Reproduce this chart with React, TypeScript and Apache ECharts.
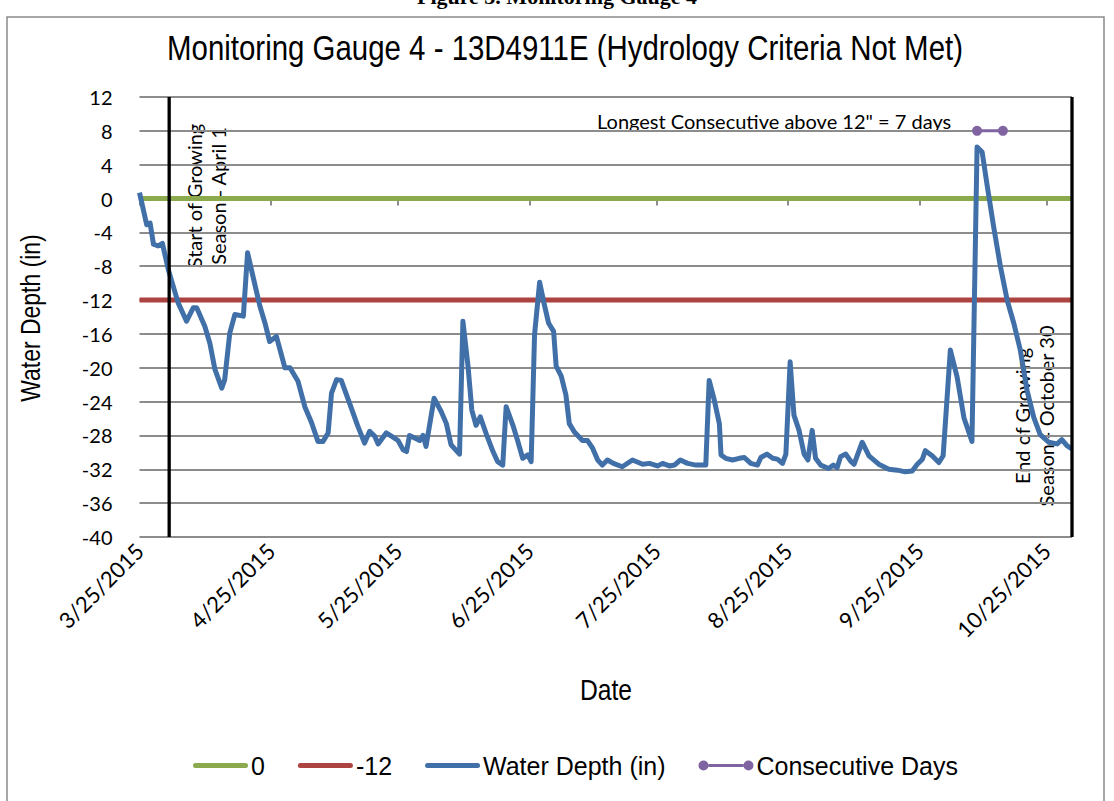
import React, { useEffect, useRef } from "react";
import * as echarts from "echarts";

// x values are days counted from 3/25/2015
const tickDays = [0, 31, 61, 92, 122, 153, 184, 214];
const tickLabels = [
  "3/25/2015",
  "4/25/2015",
  "5/25/2015",
  "6/25/2015",
  "7/25/2015",
  "8/25/2015",
  "9/25/2015",
  "10/25/2015",
];
const axisMaxDay = 220;
const growingStartDay = 7;
const growingEndDay = 220;

const waterDepth: [number, number][] = [
  [0, 0.7], [1.7, -3.1], [2.5, -2.9], [3.3, -5.4], [4.4, -5.6], [5.4, -5.3],
  [6.8, -8.4], [9.1, -12.3], [11.1, -14.5], [12.7, -12.9], [13.5, -12.9],
  [15.4, -15.1], [16.6, -17.1], [17.8, -20.2], [19.4, -22.4], [20.1, -21.4],
  [21.3, -15.9], [22.5, -13.7], [24.5, -13.9], [25.5, -6.4], [26.4, -8.4],
  [28.4, -12.7], [29.6, -14.7], [30.7, -16.9], [32.3, -16.3], [34.3, -20.0],
  [35.5, -20.0], [37.4, -21.6], [39, -24.6], [40.6, -26.5], [42.1, -28.7],
  [43.3, -28.7], [44.5, -27.7], [45.3, -23.0], [46.5, -21.4], [47.6, -21.5],
  [50, -24.8], [51.5, -26.9], [53.1, -28.9], [54.3, -27.5], [55.5, -28.1],
  [56.3, -29], [58.2, -27.7], [59.8, -28.2], [61, -28.6], [62.2, -29.7],
  [63, -29.9], [63.7, -28], [65.3, -28.4], [66.1, -28.6], [66.9, -28],
  [67.6, -29.3], [69.5, -23.6], [71.2, -25.2], [72.4, -26.6], [73.5, -29.1],
  [75.5, -30.2], [76.3, -14.5], [77.5, -19.8], [78.4, -25], [79.4, -26.8],
  [80.4, -25.8], [81.8, -27.8], [83.4, -29.9], [84.5, -31.1], [85.7, -31.5],
  [86.5, -24.6], [88.1, -26.8], [89.2, -28.6], [90.4, -30.7], [91.6, -30.3],
  [92.4, -31.1], [93.2, -16.1], [94.4, -9.9], [95.4, -12.3], [96.5, -14.7],
  [97.7, -15.7], [98.3, -19.8], [99.5, -21.0], [100.6, -23.2], [101.4, -26.6],
  [102.6, -27.6], [104.5, -28.6], [105.7, -28.6], [106.9, -29.5], [108.1, -30.9],
  [109.2, -31.5], [110.4, -30.9], [111.8, -31.3], [113.9, -31.7], [116.3, -30.9],
  [118.7, -31.4], [120.3, -31.3], [122.2, -31.6], [123.4, -31.3], [125, -31.6],
  [126.2, -31.5], [127.6, -30.9], [129.3, -31.3], [131.3, -31.5], [133.6, -31.5],
  [134.4, -21.5], [135.6, -23.8], [136.8, -26.6], [137.2, -30.3], [138.3, -30.7],
  [139.9, -30.9], [141.5, -30.7], [142.7, -30.6], [144.2, -31.3], [145.8, -31.5],
  [146.6, -30.6], [148, -30.2], [149.4, -30.7], [150.5, -30.8], [151.7, -31.3],
  [152.5, -30.2], [153.5, -19.3], [154.4, -25.6], [155.6, -27.4], [156.8, -30.2],
  [157.7, -30.9], [158.7, -27.4], [159.5, -30.7], [160.7, -31.5], [162.6, -31.9],
  [163.7, -31.5], [164.6, -31.8], [165.4, -30.5], [166.6, -30.2], [167.9, -31.1],
  [168.6, -31.4], [170.5, -28.8], [172.1, -30.4], [174.4, -31.4], [176.8, -32.0],
  [178.8, -32.1], [180.7, -32.3], [182.3, -32.2], [183.5, -31.4], [184.7, -30.8],
  [185.4, -29.8], [187, -30.4], [188.6, -31.2], [189.6, -30.4], [191.3, -17.9],
  [192.9, -21.1], [194.5, -25.9], [196.4, -28.7], [197.6, 6.1], [198.8, 5.5],
  [200, 1.5], [201.5, -3.3], [203.1, -8.0], [204.7, -12.0], [206.3, -14.8],
  [207.8, -17.9], [209.4, -22.7], [211, -25.9], [212.5, -27.9], [214.5, -28.8],
  [216.5, -29.0], [217.6, -28.5], [218.8, -29.2], [220, -29.6],
];

const zeroLine: [number, number][] = [[0, 0], [axisMaxDay, 0]];
const criteriaLine: [number, number][] = [[0, -12], [axisMaxDay, -12]];
const consecutiveDays: [number, number][] = [[197.6, 8], [203.7, 8]];

const SANS = "'Liberation Sans', Arial, sans-serif";
const CAL = "Lato, 'Open Sans', sans-serif";

const capsule =
  "path://M2.5,0 H52.5 A2.5,2.5 0 0 1 52.5,5 H2.5 A2.5,2.5 0 0 1 2.5,0 Z";
const dotLine =
  "path://M10,3.5 H45 V6.5 H10 Z M0,5 A5,5 0 1 0 10,5 A5,5 0 1 0 0,5 Z M45,5 A5,5 0 1 0 55,5 A5,5 0 1 0 45,5 Z";

function label(x: number, y: number, text: string, font: string, extra: any = {}) {
  return {
    type: "text",
    x,
    y,
    ...extra,
    style: {
      text,
      font,
      fill: "#000",
      align: "center",
      textAlign: "center",
      verticalAlign: "middle",
      textVerticalAlign: "middle",
      ...(extra.style || {}),
    },
  };
}

export default function App() {
  const ref = useRef<HTMLDivElement>(null);

  useEffect(() => {
    if (!ref.current) return;
    const chart = echarts.init(ref.current, undefined, { renderer: "svg" });
    const tickMap: Record<number, string> = {};
    tickDays.forEach((d, i) => (tickMap[d] = tickLabels[i]));

    chart.setOption({
      animation: false,
      backgroundColor: "#fff",
      grid: { left: 139.5, right: 42, top: 97, bottom: 264, containLabel: false },
      xAxis: [
        {
          type: "value",
          min: 0,
          max: axisMaxDay,
          position: "bottom",
          axisLine: { show: false, onZero: false },
          axisTick: { show: false },
          splitLine: { show: false },
          axisLabel: {
            customValues: tickDays,
            rotate: 45,
            margin: 10,
            fontFamily: CAL,
            fontSize: 22,
            color: "#000",
            formatter: (v: number) => tickMap[v] ?? "",
          },
        },
        {
          type: "value",
          min: 0,
          max: axisMaxDay,
          position: "top",
          axisLine: { show: true, onZero: true, lineStyle: { color: "#8c8c8c", width: 2 } },
          axisTick: {
            show: true,
            inside: true,
            length: 7,
            customValues: tickDays,
            lineStyle: { color: "#8c8c8c", width: 2 },
          },
          axisLabel: { show: false },
          splitLine: { show: false },
        },
      ],
      yAxis: {
        type: "value",
        min: -40,
        max: 12,
        interval: 4,
        axisLine: { show: false },
        axisTick: { show: false },
        axisLabel: { margin: 27, fontFamily: CAL, fontSize: 20, color: "#000" },
        splitLine: { show: true, lineStyle: { color: "#8c8c8c", width: 2 } },
      },
      legend: {
        left: 193,
        top: 753,
        padding: 0,
        itemGap: 33,
        itemWidth: 55,
        itemHeight: 10,
        textStyle: { fontFamily: SANS, fontSize: 25, color: "#000", padding: [0, 0, 0, -2] },
        data: [
          { name: "0", icon: capsule },
          { name: "-12", icon: capsule },
          { name: "Water Depth (in)", icon: capsule },
          { name: "Consecutive Days", icon: dotLine },
        ],
      },
      series: [
        {
          name: "0",
          type: "line",
          data: zeroLine,
          showSymbol: false,
          symbol: "none",
          lineStyle: { color: "#8ba94d", width: 5 },
          itemStyle: { color: "#8ba94d" },
          z: 3,
        },
        {
          name: "-12",
          type: "line",
          data: criteriaLine,
          showSymbol: false,
          symbol: "none",
          lineStyle: { color: "#ad4340", width: 5 },
          itemStyle: { color: "#ad4340" },
          z: 3,
        },
        {
          name: "Water Depth (in)",
          type: "line",
          data: waterDepth,
          showSymbol: false,
          symbol: "none",
          lineStyle: { color: "#4170a8", width: 5, join: "round" },
          itemStyle: { color: "#4170a8" },
          z: 4,
        },
        {
          name: "Consecutive Days",
          type: "line",
          data: consecutiveDays,
          symbol: "circle",
          symbolSize: 10,
          showSymbol: true,
          lineStyle: { color: "#8064a2", width: 3 },
          itemStyle: { color: "#8064a2" },
          z: 5,
        },
        {
          name: "Start of Growing Season",
          type: "line",
          data: [[growingStartDay, 12], [growingStartDay, -40]],
          symbol: "none",
          clip: false,
          lineStyle: { color: "#000", width: 3.3 },
          z: 6,
        },
        {
          name: "End of Growing Season",
          type: "line",
          data: [[growingEndDay, 12], [growingEndDay, -40]],
          symbol: "none",
          clip: false,
          lineStyle: { color: "#000", width: 3.3 },
          z: 6,
        },
      ],
      graphic: [
        {
          type: "rect",
          shape: { x: 7, y: 17, width: 1097, height: 800 },
          style: { fill: "none", stroke: "#8a8a8a", lineWidth: 1.5 },
          silent: true,
          z: -1,
        },
        label(557, 7, "Figure 3. Monitoring Gauge 4", "bold 22px 'Liberation Serif', serif", {
          style: { verticalAlign: "bottom", textVerticalAlign: "bottom" },
        }),
        label(
          565,
          48,
          "Monitoring Gauge 4 - 13D4911E (Hydrology Criteria Not Met)",
          "35px " + SANS,
          { scaleX: 0.841 }
        ),
        label(206, 196, "Start of Growing\nSeason - April 1", "20px " + CAL, {
          rotation: Math.PI / 2,
          style: { lineHeight: 24 },
        }),
        label(1034, 416, "End of Growing\nSeason - October 30", "20px " + CAL, {
          rotation: Math.PI / 2,
          style: { lineHeight: 24 },
        }),
        label(597, 121, 'Longest Consecutive above 12" = 7 days', "20px " + CAL, {
          style: { align: "left", textAlign: "left" },
        }),
        label(606, 690, "Date", "29px " + SANS, { scaleX: 0.85 }),
        label(30, 318, "Water Depth (in)", "28px " + SANS, {
          rotation: Math.PI / 2,
          scaleX: 0.82,
        }),
      ],
    });

    return () => chart.dispose();
  }, []);

  return (
    <div
      ref={ref}
      style={{ position: "absolute", left: 0, top: 0, width: 1114, height: 801 }}
    />
  );
}
